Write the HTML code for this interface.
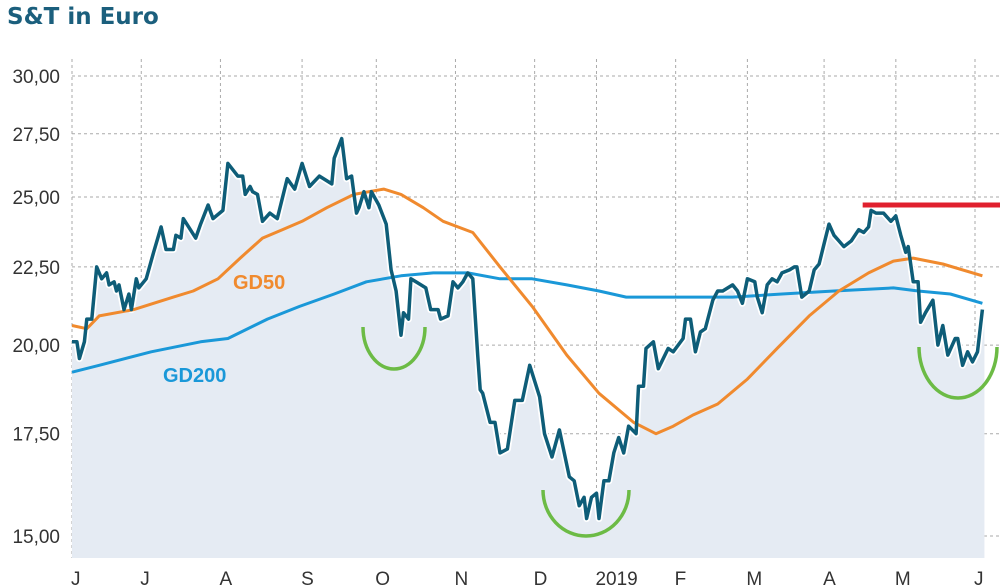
<!DOCTYPE html>
<html><head><meta charset="utf-8"><style>
body{margin:0;background:#fff;}
svg{display:block;font-family:"Liberation Sans",sans-serif;}
</style></head><body>
<svg id="chart" width="1000" height="587" viewBox="0 0 1000 587">
<text x="7" y="24" font-size="23" font-weight="bold" fill="#1b5f7d" font-family="DejaVu Sans, sans-serif">S&amp;T in Euro</text>
<g id="grid"></g><g id="area"></g><g id="lines"></g><g id="anno"></g><g id="axes"></g>
</svg>
<script>
const priceDays=[0,2,3,5,6,8,10,12,14,15,17,18,19,21,23,24,26,27,30,33,36,38,41,42,44,45,50,52,55,57,61,63,67,69,70,72,73,75,77,80,83,87,90,93,96,100,105,106,109,111,113,115,116,118,120,121,124,127,129,131,133,134,136,137,139,143,145,148,149,152,154,156,158,160,162,164,165,166,169,171,173,176,179,182,185,189,191,194,197,201,203,205,207,208,210,212,213,215,217,219,221,223,225,228,229,231,232,235,237,241,243,247,248,250,252,254,256,259,261,263,267,269,271,273,276,277,279,281,283,285,287,290,292,293,295,298,300,302,304,306,308,310,312,315,318,320,322,323,325,328,331,333,335,337,338,340,342,343,345,348,350,352,354,357,358,360,362,364,366,368];
const priceVals=[20.1,20.1,19.6,20.1,20.8,20.8,22.5,22.1,22.3,21.9,22.0,21.7,21.9,21.1,21.6,21.1,22.1,21.8,22.1,23.0,23.9,23.1,23.1,23.6,23.5,24.2,23.5,24.0,24.7,24.2,24.5,26.3,25.8,25.8,25.1,25.4,25.2,25.1,24.1,24.4,24.2,25.7,25.3,26.3,25.4,25.8,25.5,26.5,27.3,25.7,25.8,24.4,24.6,25.2,24.6,25.2,24.7,24.0,22.4,21.7,20.3,21.0,20.8,22.1,22.0,21.8,21.1,21.1,20.8,20.9,22.0,21.8,22.0,22.3,22.1,19.7,18.7,18.6,17.8,17.8,17.0,17.1,18.4,18.4,19.4,18.5,17.5,16.9,17.6,16.4,16.3,15.7,15.9,15.4,15.9,16.0,15.4,16.3,16.3,17.0,17.4,17.0,17.7,17.5,18.8,18.8,19.9,20.1,19.3,19.9,19.8,20.2,20.8,20.8,19.8,20.4,20.5,21.4,21.7,21.7,21.9,21.7,21.3,22.1,22.0,21.5,21.0,21.9,22.1,22.0,22.3,22.4,22.5,22.5,21.5,21.7,22.4,22.6,23.3,24.0,23.6,23.4,23.2,23.4,23.8,23.7,23.9,24.5,24.4,24.4,24.1,24.3,23.6,23.0,23.2,22.0,22.0,20.7,21.0,21.4,20.0,20.6,19.7,20.2,20.2,19.4,19.8,19.5,19.8,21.1];
const gd50Days=[0,6,11,25,33,41,49,59,68,77,85,93,103,114,126,133,142,150,162,173,186,200,213,227,236,243,251,261,273,285,298,310,322,332,340,352,368];
const gd50Vals=[20.6,20.5,20.9,21.1,21.3,21.5,21.7,22.1,22.8,23.5,23.8,24.1,24.6,25.1,25.3,25.1,24.6,24.1,23.7,22.5,21.2,19.7,18.6,17.8,17.5,17.7,18.0,18.3,19.0,19.9,20.9,21.7,22.3,22.7,22.8,22.6,22.2];
const gd200Days=[0,11,32,52,63,79,92,106,119,133,146,160,173,186,200,213,224,240,267,287,308,332,342,355,368];
const gd200Vals=[19.2,19.4,19.8,20.1,20.2,20.8,21.2,21.6,22.0,22.2,22.3,22.3,22.1,22.1,21.9,21.7,21.5,21.5,21.5,21.6,21.7,21.8,21.7,21.6,21.3];
const yTicks=[15,17.5,20,22.5,25,27.5,30];
const yTickLabels=["15,00","17,50","20,00","22,50","25,00","27,50","30,00"];
const monthDays=[0,28,60,93,123,155,187,212,244,273,304,333,365];
const monthLabels=["J","J","A","S","O","N","D","2019","F","M","A","M","J"];
const resistance=24.7, resistanceStartDay=320;

const X0=72, PXD=903/365, Y15=536, K=663.6, TOP=59, BOT=558;
const xS=d=>X0+d*PXD;
const yS=v=>Y15-K*Math.log(v/15);
const NS="http://www.w3.org/2000/svg";
function mk(tag,parent,attrs){const e=document.createElementNS(NS,tag);for(const k in attrs)e.setAttribute(k,attrs[k]);document.getElementById(parent).appendChild(e);return e;}

yTicks.forEach((v,i)=>{
  const l=mk('line','grid',{x1:X0,x2:1000,y1:yS(v),y2:yS(v),stroke:'#aaa','stroke-width':1,'stroke-dasharray':'3,3'});
  
  
  const t=mk('text','axes',{x:60,y:yS(v)+7,'font-size':19,'text-anchor':'end',fill:'#333'});
  t.textContent=yTickLabels[i];
  
  
});
monthDays.forEach((d,i)=>{
  const l=mk('line','grid',{x1:xS(d),x2:xS(d),y1:TOP,y2:BOT,stroke:'#aaa','stroke-width':1,'stroke-dasharray':'3,3'});
  
  
  const t=mk('text','axes',{x:xS(d)-1,y:585,'font-size':19,fill:'#333'});
  t.textContent=monthLabels[i];
  
  
});
function pts(ds,vs){return ds.map((d,i)=>xS(d).toFixed(1)+','+yS(vs[i]).toFixed(1));}
const pp=pts(priceDays,priceVals);
const lastX=xS(priceDays[priceDays.length-1])+2;
const area=mk('path','area',{d:'M'+xS(priceDays[0])+','+BOT+' L'+pp.join(' L')+' L'+lastX+','+yS(priceVals[priceVals.length-1])+' L'+lastX+','+BOT+'Z',fill:'#e5ebf3'});


const halo=mk('polyline','lines',{points:pp.join(' '),fill:'none',stroke:'#fff','stroke-width':7,'stroke-linejoin':'round'});


const g200=mk('polyline','lines',{points:pts(gd200Days,gd200Vals).join(' '),fill:'none',stroke:'#1a98d8','stroke-width':3,'stroke-linejoin':'round'});


const g50=mk('polyline','lines',{points:pts(gd50Days,gd50Vals).join(' '),fill:'none',stroke:'#f08a2e','stroke-width':3,'stroke-linejoin':'round'});


const pl=mk('polyline','lines',{points:pp.join(' '),fill:'none',stroke:'#0e5d78','stroke-width':3.5,'stroke-linejoin':'round'});


const red=mk('line','anno',{x1:xS(resistanceStartDay)-1,x2:1000,y1:yS(resistance),y2:yS(resistance),stroke:'#e0202e','stroke-width':5});


[[394,327,31,42],[586,490,43,46],[958,347,39,51]].forEach(a=>{
  const p=mk('path','anno',{d:`M${a[0]-a[2]},${a[1]} A${a[2]},${a[3]} 0 0 0 ${a[0]+a[2]},${a[1]}`,fill:'none',stroke:'#6cbb45','stroke-width':3.5});
  
  
});
const l50=mk('text','anno',{x:233,y:289,'font-size':20,'font-weight':'bold',fill:'#f08a2e'});
l50.textContent='GD50';


const l200=mk('text','anno',{x:163,y:382,'font-size':20,'font-weight':'bold',fill:'#1a98d8'});
l200.textContent='GD200';


</script>
</body></html>
